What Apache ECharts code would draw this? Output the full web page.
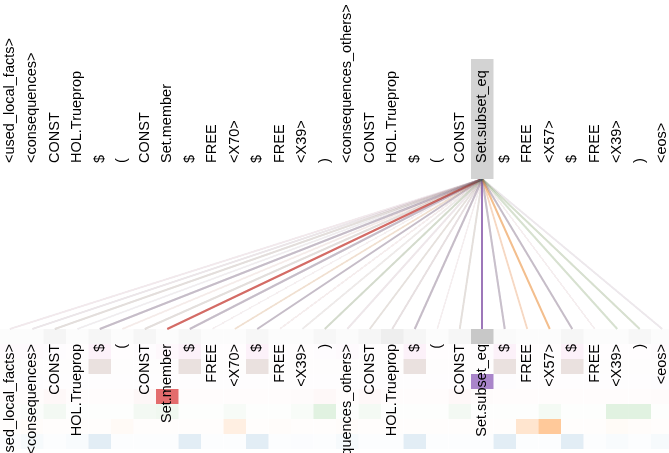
<!DOCTYPE html>
<html>
<head>
<meta charset="utf-8">
<script src="https://cdn.jsdelivr.net/npm/echarts@6/dist/echarts.min.js"></script>
<style>
  html, body { margin: 0; padding: 0; background: #fff; }
  #chart { width: 669px; height: 453px; }
</style>
</head>
<body>
<div id="chart"></div>
<script>
// tokens of the sequence (same list on top and bottom)
const tokens = [
    "<used_local_facts>", "<consequences>", "CONST", "HOL.Trueprop", "$", "(",
    "CONST", "Set.member", "$", "FREE", "<X70>", "$", "FREE", "<X39>", ")",
    "<consequences_others>", "CONST", "HOL.Trueprop", "$", "(", "CONST",
    "Set.subset_eq", "$", "FREE", "<X57>", "$", "FREE", "<X39>", ")", "<eos>"
];
const selectedToken = 21;

// attention of the selected token to every token, one array per head
const greyHead   = [0.02,0.02,0.08,0.02,0.07,0.02,0.07,0.02,0.06,0.02,0.02,0.06,0.02,0.02,0.06,0.03,0.07,0.13,0.07,0.02,0.07,0.43,0.04,0.02,0.02,0.07,0.02,0.02,0.06,0.02];
const pinkHead   = [0.04,0.04,0.02,0.01,0.10,0.01,0.02,0.05,0.10,0.01,0.01,0.10,0.01,0.01,0.02,0.04,0.01,0.01,0.10,0.01,0.01,0.02,0.10,0.01,0.01,0.10,0.01,0.01,0.01,0.03];
const brownHead  = [0.02,0.01,0.01,0.01,0.18,0.01,0.01,0.01,0.18,0.01,0.01,0.18,0.01,0.01,0.01,0.01,0.01,0.01,0.18,0.01,0.01,0.01,0.18,0.01,0.01,0.18,0.01,0.01,0.01,0.01];
const purpleHead = [0.01,0.02,0.01,0.01,0.01,0.01,0.01,0.01,0.01,0.01,0.01,0.01,0.01,0.01,0.01,0.01,0.01,0.01,0.01,0.01,0.01,0.80,0.02,0.01,0.01,0.01,0.01,0.01,0.01,0.02];
const redHead    = [0.01,0.01,0.03,0.01,0.01,0.01,0.04,0.68,0.01,0.01,0.01,0.01,0.01,0.02,0.03,0.01,0.03,0.01,0.01,0.01,0.03,0.02,0.01,0.01,0.01,0.01,0.01,0.01,0.01,0.02];
const greenHead  = [0.01,0.02,0.06,0.01,0.01,0.01,0.06,0.07,0.01,0.01,0.04,0.01,0.01,0.03,0.14,0.01,0.05,0.01,0.01,0.01,0.06,0.01,0.01,0.01,0.05,0.01,0.01,0.14,0.14,0.01];
const orangeHead = [0.01,0.02,0.01,0.01,0.01,0.04,0.01,0.01,0.01,0.01,0.12,0.01,0.02,0.01,0.01,0.02,0.01,0.01,0.01,0.01,0.01,0.01,0.01,0.20,0.42,0.01,0.01,0.03,0.02,0.01];
const blueHead   = [0.02,0.04,0.01,0.03,0.13,0.01,0.01,0.01,0.13,0.01,0.01,0.13,0.01,0.02,0.01,0.04,0.01,0.01,0.13,0.01,0.01,0.01,0.13,0.01,0.01,0.13,0.01,0.03,0.01,0.04];

// rows top to bottom
const heads = [greyHead, pinkHead, brownHead, purpleHead, redHead, greenHead, orangeHead, blueHead];
const headColors = ["#7f7f7f", "#e377c2", "#8c564b", "#9467bd", "#d62728", "#2ca02c", "#ff7f0e", "#1f77b4"];

// layout (y in pixels, x in token units)
const topLabelY = 163;
const lineTop = 179;
const cellTop = 329;
const cellH = 15;
const bottomLabelY = 344;
const font = "14.5px 'Liberation Sans', Arial, sans-serif";

const chart = echarts.init(document.getElementById("chart"));

const cellData = [];
const lineData = [];
heads.forEach(function (weights, h) {
    weights.forEach(function (w, i) {
        cellData.push([i, h, w]);
        lineData.push({
            coords: [[selectedToken, lineTop], [i, cellTop]],
            lineStyle: { color: headColors[h], opacity: w, width: 2 }
        });
    });
});

const labelData = tokens.map(function (t, i) { return [i, t]; });

const option = {
    animation: false,
    grid: { left: 0, right: 0, top: 0, bottom: 0 },
    xAxis: { type: "value", min: -0.4333, max: 29.3, show: false },
    yAxis: { type: "value", min: 0, max: 453, inverse: true, show: false },
    series: [
        {
            type: "custom",
            z: 1,
            silent: true,
            data: cellData,
            renderItem: function (params, api) {
                const i = api.value(0), h = api.value(1), w = api.value(2);
                const p0 = api.coord([i - 0.5, cellTop + h * cellH]);
                const p1 = api.coord([i + 0.5, cellTop + (h + 1) * cellH]);
                return {
                    type: "rect",
                    shape: { x: p0[0], y: p0[1], width: p1[0] - p0[0], height: p1[1] - p0[1] },
                    style: { fill: headColors[h], opacity: w }
                };
            }
        },
        {
            type: "lines",
            coordinateSystem: "cartesian2d",
            z: 2,
            silent: true,
            data: lineData
        },
        {
            type: "custom",
            z: 3,
            silent: true,
            data: [[selectedToken]],
            renderItem: function (params, api) {
                const p0 = api.coord([api.value(0) - 0.5, 59]);
                const p1 = api.coord([api.value(0) + 0.5, lineTop]);
                return {
                    type: "rect",
                    shape: { x: p0[0], y: p0[1], width: p1[0] - p0[0], height: p1[1] - p0[1] },
                    style: { fill: "#d3d3d3" }
                };
            }
        },
        {
            type: "custom",
            z: 4,
            silent: true,
            data: labelData,
            renderItem: function (params, api) {
                const i = api.value(0);
                const text = tokens[i];
                const top = api.coord([i, topLabelY]);
                const bottom = api.coord([i, bottomLabelY]);
                return {
                    type: "group",
                    children: [
                        {
                            type: "text",
                            x: top[0], y: top[1], rotation: Math.PI / 2,
                            style: { text: text, font: font, fill: "#000", align: "left", verticalAlign: "middle" }
                        },
                        {
                            type: "text",
                            x: bottom[0], y: bottom[1], rotation: Math.PI / 2,
                            style: { text: text, font: font, fill: "#000", align: "right", verticalAlign: "middle" }
                        }
                    ]
                };
            }
        }
    ]
};

chart.setOption(option);
</script>
</body>
</html>
